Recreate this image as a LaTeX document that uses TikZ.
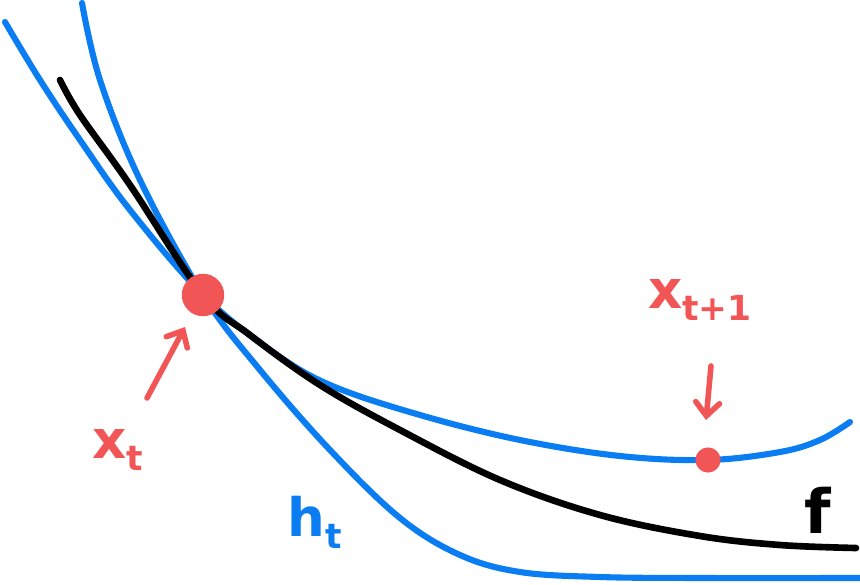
\documentclass[tikz,border=0pt]{standalone}
\usepackage{fontspec}
\setmainfont{DejaVu Sans}
\usetikzlibrary{arrows.meta}
\definecolor{pblue}{HTML}{0A7DF2}
\definecolor{pred}{HTML}{F25555}
\newcommand{\bigsz}{\fontsize{40}{44}\selectfont}
\newcommand{\subsz}{\fontsize{26}{30}\selectfont}
\newcommand{\lbl}[2]{{\bigsz #1}\raisebox{-9pt}{\subsz #2}}
\tikzset{
  bluecurve/.style={pblue,line width=4.6pt,line cap=round,line join=round},
  blackcurve/.style={black,line width=5pt,line cap=round,line join=round},
  reddot/.style={circle,fill=pred,inner sep=0pt},
  redarrow/.style={pred,line width=4.2pt,line cap=round,-{Straight Barb[length=10pt,width=18pt,line cap=round]}},
  redlabel/.style={pred,inner sep=0pt,font=\bfseries},
}
\begin{document}
\begin{tikzpicture}[x=0.0265cm,y=-0.0265cm]
\useasboundingbox (0,0) rectangle (860,585);
% upper blue curve
\draw[bluecurve] plot[smooth,tension=0.6] coordinates {(5,22) (40,80) (80,140) (130,210) (203,295) (270,350) (330,385) (420,415) (520,440) (620,456) (708,460) (780,452) (820,440) (850,422)};
% lower blue curve h_t
\draw[bluecurve] plot[smooth,tension=0.6] coordinates {(82,3) (100,80) (140,180) (203,295) (260,370) (330,450) (400,518) (460,555) (520,572) (600,577) (700,578) (860,578)};
% black curve f
\draw[blackcurve] plot[smooth,tension=0.6] coordinates {(60,80) (80,115) (130,185) (203,295) (250,335) (320,385) (400,430) (500,480) (600,515) (700,536) (780,545) (856,548)};
% dots
\node[reddot,minimum size=32pt] (xt) at (203,295) {};
\node[reddot,minimum size=19pt] (xt1) at (708,460) {};
% labels
\node[redlabel] (lxt) at (118,450) {\lbl{x}{t}};
\node[redlabel] (lxt1) at (700,300) {\lbl{x}{t+1}};
\node[pblue,inner sep=0pt,font=\bfseries] (lht) at (315,522) {\lbl{h}{t}};
\node[inner sep=0pt,font=\bfseries\fontsize{46}{50}\selectfont] (lf) at (818,510) {f};
% arrows
\coordinate (a1s) at (147,398);
\coordinate (a1e) at (185,327);
\coordinate (a2s) at (711,366);
\coordinate (a2e) at (706,420);
\draw[redarrow] (a1s) -- (a1e);
\draw[redarrow] (a2s) -- (a2e);
\end{tikzpicture}
\end{document}
